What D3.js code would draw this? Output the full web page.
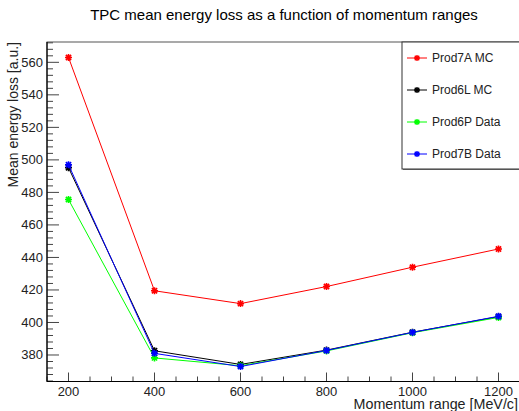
<!DOCTYPE html>
<html>
<head>
<meta charset="utf-8">
<script src="https://cdnjs.cloudflare.com/ajax/libs/d3/7.8.5/d3.min.js"></script>
<style>
	html, body { margin: 0; padding: 0; background: #fff; }
	svg { display: block; font-family: "Liberation Sans", Arial, Helvetica, sans-serif; }
</style>
</head>
<body>
<svg id="chart" width="519" height="411"></svg>
<script>
// momentum bins [MeV/c]
var momentum = [200, 400, 600, 800, 1000, 1200];

// mean energy loss [a.u.] per production
var prod7A = [563.0, 419.5, 411.6, 422.1, 434.0, 445.2];
var prod6L = [495.2, 382.6, 374.2, 383.0, 394.0, 403.6];
var prod6P = [475.6, 378.2, 373.4, 382.5, 393.7, 403.1];
var prod7B = [497.0, 381.0, 372.9, 382.8, 393.9, 403.8];

var seriesNames = ["Prod7A MC", "Prod6L MC", "Prod6P Data", "Prod7B Data"];
var seriesColors = ["#ff0000", "#000000", "#00ff00", "#0000ff"];

var xTicks = [200, 400, 600, 800, 1000, 1200];
var yTicks = [380, 400, 420, 440, 460, 480, 500, 520, 540, 560];

var titleText = "TPC mean energy loss as a function of momentum ranges";
var xTitle = "Momentum range [MeV/c]";
var yTitle = "Mean energy loss [a.u.]";

var svg = d3.select("#chart");

var frameLeft = 47;
var frameRight = 520;
var frameTop = 42;
var frameBottom = 381.5;

var x = d3.scaleLinear().domain([150, 1250]).range([frameLeft, frameRight]);
var y = d3.scaleLinear().domain([363.7, 572.5]).range([frameBottom, frameTop]);

// Title
svg.append("text")
	.attr("x", 284)
	.attr("y", 20)
	.attr("text-anchor", "middle")
	.style("font-size", "15px")
	.attr("fill", "#000")
	.text(titleText);

// Frame
svg.append("rect")
	.attr("x", frameLeft)
	.attr("y", frameTop)
	.attr("width", frameRight - frameLeft)
	.attr("height", frameBottom - frameTop)
	.attr("fill", "none")
	.attr("stroke", "#555")
	.attr("stroke-width", 1);

// X axis ticks (drawn inward, ROOT style)
var xMinor = d3.range(150, 1251, 50);
svg.append("g").selectAll("line")
	.data(xMinor)
	.enter().append("line")
	.attr("x1", function (d) { return x(d); })
	.attr("x2", function (d) { return x(d); })
	.attr("y1", frameBottom)
	.attr("y2", function (d) { return xTicks.indexOf(d) >= 0 ? frameBottom - 9 : frameBottom - 5; })
	.attr("stroke", "#444")
	.attr("stroke-width", 1);

svg.append("g").selectAll("text")
	.data(xTicks)
	.enter().append("text")
	.attr("x", function (d) { return x(d); })
	.attr("y", 395.5)
	.attr("text-anchor", "middle")
	.style("font-size", "13px")
	.attr("fill", "#222")
	.text(function (d) { return d; });

// Y axis ticks
var yMinor = d3.range(364, 573, 4);
svg.append("g").selectAll("line")
	.data(yMinor)
	.enter().append("line")
	.attr("x1", frameLeft)
	.attr("x2", function (d) { return yTicks.indexOf(d) >= 0 ? frameLeft + 12 : frameLeft + 6; })
	.attr("y1", function (d) { return y(d); })
	.attr("y2", function (d) { return y(d); })
	.attr("stroke", "#444")
	.attr("stroke-width", 1);

svg.append("g").selectAll("text")
	.data(yTicks)
	.enter().append("text")
	.attr("x", 43)
	.attr("y", function (d) { return y(d) + 4.5; })
	.attr("text-anchor", "end")
	.style("font-size", "13px")
	.attr("fill", "#222")
	.text(function (d) { return d; });

// Axis lines
svg.append("line")
	.attr("x1", frameLeft).attr("x2", frameRight)
	.attr("y1", frameBottom).attr("y2", frameBottom)
	.attr("stroke", "#000").attr("stroke-width", 1.2);
svg.append("line")
	.attr("x1", frameLeft).attr("x2", frameLeft)
	.attr("y1", frameTop).attr("y2", frameBottom)
	.attr("stroke", "#000").attr("stroke-width", 1.2);

// Axis titles
svg.append("text")
	.attr("x", 518)
	.attr("y", 408.5)
	.attr("text-anchor", "end")
	.style("font-size", "14.3px")
	.attr("fill", "#222")
	.text(xTitle);

svg.append("text")
	.attr("transform", "translate(18," + frameTop + ") rotate(-90)")
	.attr("text-anchor", "end")
	.style("font-size", "14px")
	.attr("fill", "#222")
	.text(yTitle);

// Series
var allSeries = [prod7A, prod6L, prod6P, prod7B];

function starPath(r) {
	var d = r * 0.75;
	return "M" + (-r) + ",0L" + r + ",0" +
		"M0," + (-r) + "L0," + r +
		"M" + (-d) + "," + (-d) + "L" + d + "," + d +
		"M" + (-d) + "," + d + "L" + d + "," + (-d);
}

var line = d3.line()
	.x(function (d, i) { return x(momentum[i]); })
	.y(function (d) { return y(d); });

allSeries.forEach(function (values, s) {
	var g = svg.append("g").attr("class", "series" + s);
	g.append("path")
		.attr("d", line(values))
		.attr("fill", "none")
		.attr("stroke", seriesColors[s])
		.attr("stroke-width", 1);
	g.selectAll("path.marker")
		.data(values)
		.enter().append("path")
		.classed("marker", true)
		.attr("transform", function (d, i) { return "translate(" + x(momentum[i]) + "," + y(d) + ")"; })
		.attr("d", starPath(3.5))
		.attr("stroke", seriesColors[s])
		.attr("stroke-width", 1.6)
		.attr("fill", "none");
});

// Legend
var legendX = 402;
var legendY = 42;
var legendW = 118;
var legendH = 127;

svg.append("rect")
	.attr("x", legendX + 1)
	.attr("y", legendY + 1)
	.attr("width", legendW)
	.attr("height", legendH)
	.attr("fill", "#777");
svg.append("rect")
	.attr("x", legendX)
	.attr("y", legendY)
	.attr("width", legendW)
	.attr("height", legendH)
	.attr("fill", "#fff")
	.attr("stroke", "#333")
	.attr("stroke-width", 1);

var legendRows = [58, 90, 122, 154];
var entry = svg.append("g").selectAll("g")
	.data(seriesNames)
	.enter().append("g")
	.attr("transform", function (d, i) { return "translate(" + legendX + "," + legendRows[i] + ")"; });

entry.append("line")
	.attr("x1", 5).attr("x2", 25)
	.attr("y1", 0).attr("y2", 0)
	.attr("stroke", function (d, i) { return seriesColors[i]; })
	.attr("stroke-width", 1);
entry.append("path")
	.attr("transform", "translate(15,0)")
	.attr("d", starPath(3))
	.attr("stroke", function (d, i) { return seriesColors[i]; })
	.attr("stroke-width", 1.4)
	.attr("fill", "none");
entry.append("text")
	.attr("x", 30)
	.attr("y", 4)
	.style("font-size", "12px")
	.attr("fill", "#222")
	.text(function (d) { return d; });
</script>
</body>
</html>
